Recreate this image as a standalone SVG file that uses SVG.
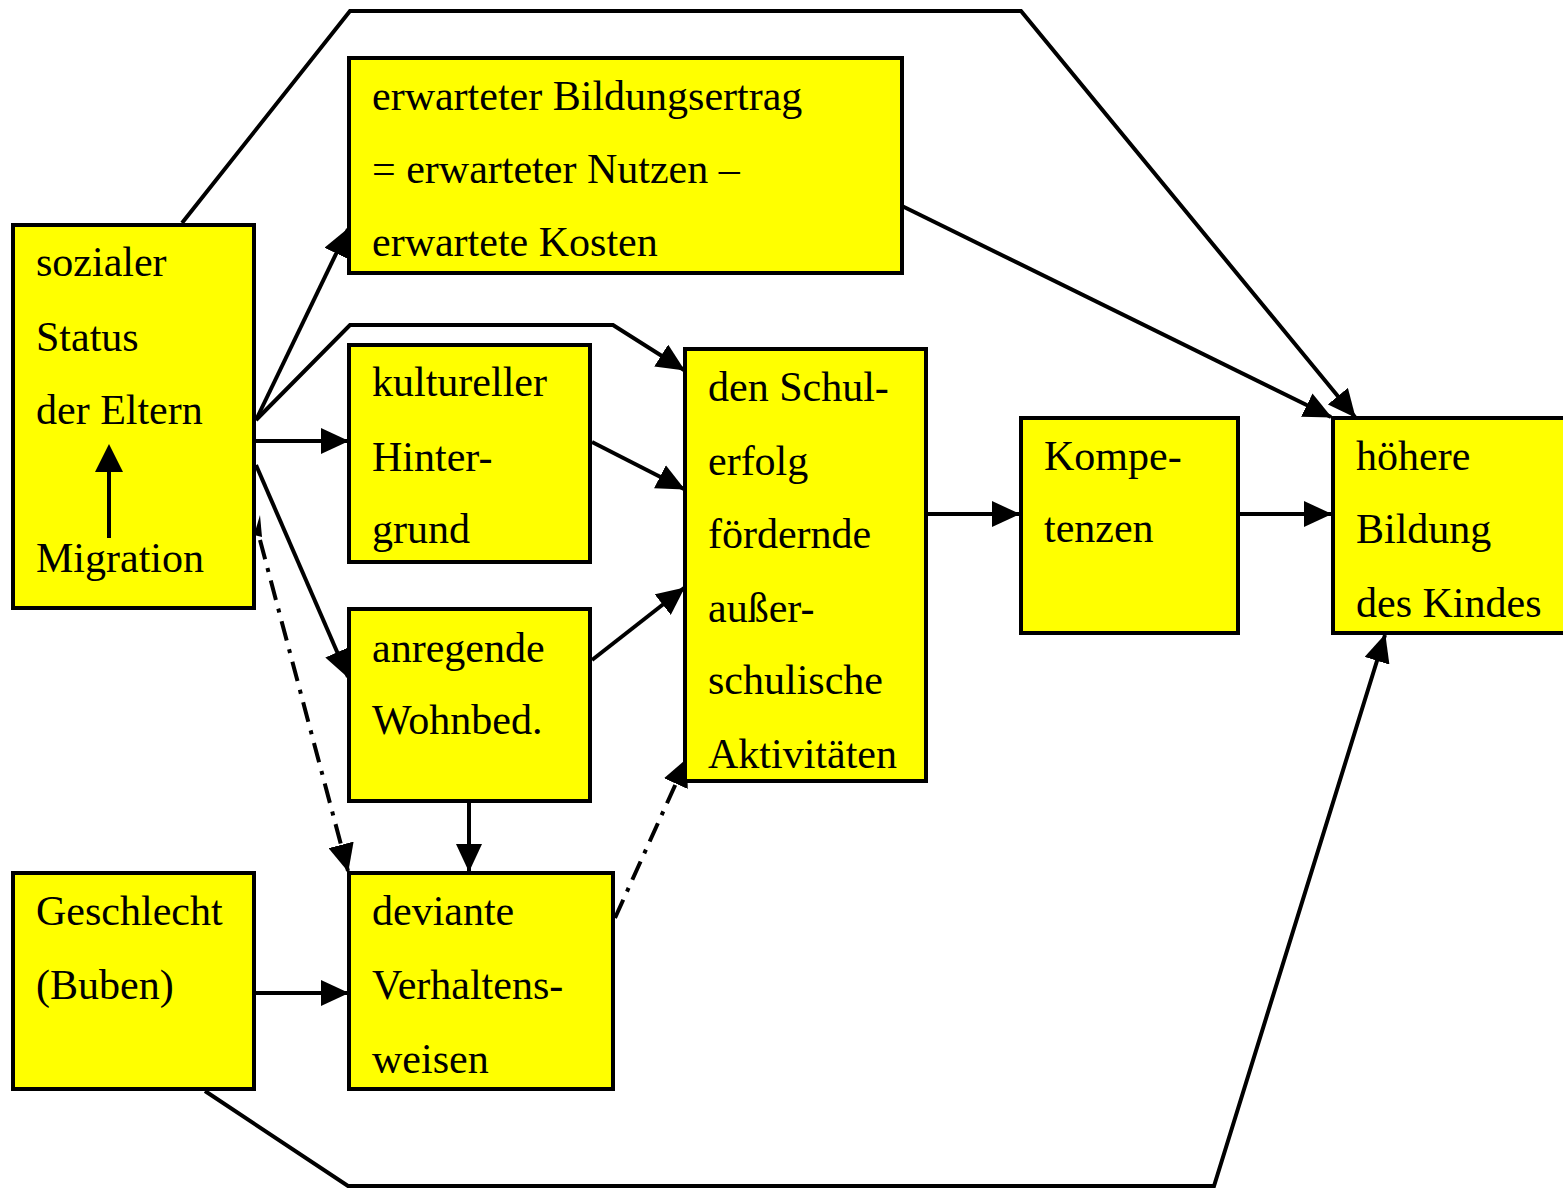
<svg xmlns="http://www.w3.org/2000/svg" width="1563" height="1188" viewBox="0 0 1563 1188">
<defs>
<marker id="ah" markerUnits="userSpaceOnUse" markerWidth="28" markerHeight="26" refX="27" refY="13" orient="auto-start-reverse" viewBox="0 0 28 26">
<path d="M0,0 L28,13 L0,26 z" fill="#000"/>
</marker>
<style>
.box{fill:#ffff00;stroke:#000;stroke-width:4}
.t{font-family:"Liberation Serif","Times New Roman",serif;font-size:42px;fill:#000}
.c{fill:none;stroke:#000;stroke-width:4}
.a{marker-end:url(#ah)}
.d{stroke-dasharray:20 9 4 9}
</style>
</defs>
<rect width="1563" height="1188" fill="#fff"/>
<g id="connectors">
<polyline class="c a" points="182,223 350,11 1021,11 1355,417"/>
<line class="c a" x1="902" y1="206" x2="1331" y2="417"/>
<line class="c a" x1="256" y1="420" x2="348" y2="229"/>
<polyline class="c a" points="256,420 350,325 613,325 684,370"/>
<line class="c a" x1="256" y1="441" x2="348" y2="441"/>
<line class="c a" x1="256" y1="465" x2="348" y2="677"/>
<line class="c d" x1="260" y1="540" x2="348" y2="871" marker-end="url(#ah)"/>
<path d="M254,535 L260,515 L262,537 z" fill="#000"/>
<line class="c a" x1="592" y1="442" x2="684" y2="489"/>
<line class="c a" x1="592" y1="660" x2="684" y2="588"/>
<line class="c a" x1="469" y1="801" x2="469" y2="871"/>
<line class="c d" x1="615" y1="918" x2="687" y2="759" marker-end="url(#ah)"/>
<line class="c a" x1="926" y1="514" x2="1019" y2="514"/>
<line class="c a" x1="1238" y1="514" x2="1331" y2="514"/>
<line class="c a" x1="254" y1="993" x2="348" y2="993"/>
<polyline class="c a" points="205,1091 348,1186 1214,1186 1385,635"/>
</g>
<g id="sozial">
<rect class="box" x="13" y="225" width="241" height="383"/>
<text class="t" x="36" y="276">sozialer</text>
<text class="t" x="36" y="351">Status</text>
<text class="t" x="36" y="424">der Eltern</text>
<text class="t" x="36" y="572">Migration</text>
<line x1="109" y1="538" x2="109" y2="470" stroke="#000" stroke-width="4"/>
<path d="M95,472 L109,444 L123,472 z" fill="#000"/>
</g>
<g id="ertrag">
<rect class="box" x="349" y="58" width="553" height="215"/>
<text class="t" x="372" y="110">erwarteter Bildungsertrag</text>
<text class="t" x="372" y="183">= erwarteter Nutzen –</text>
<text class="t" x="372" y="256">erwartete Kosten</text>
</g>
<g id="kultur">
<rect class="box" x="349" y="345" width="241" height="217"/>
<text class="t" x="372" y="396">kultureller</text>
<text class="t" x="372" y="471">Hinter-</text>
<text class="t" x="372" y="543">grund</text>
</g>
<g id="wohn">
<rect class="box" x="349" y="609" width="241" height="192"/>
<text class="t" x="372" y="662">anregende</text>
<text class="t" x="372" y="734">Wohnbed.</text>
</g>
<g id="aktiv">
<rect class="box" x="685" y="349" width="241" height="432"/>
<text class="t" x="708" y="401">den Schul-</text>
<text class="t" x="708" y="475">erfolg</text>
<text class="t" x="708" y="548">fördernde</text>
<text class="t" x="708" y="622">außer-</text>
<text class="t" x="708" y="694">schulische</text>
<text class="t" x="708" y="768">Aktivitäten</text>
</g>
<g id="kompetenz">
<rect class="box" x="1021" y="418" width="217" height="215"/>
<text class="t" x="1044" y="470">Kompe-</text>
<text class="t" x="1044" y="542">tenzen</text>
</g>
<g id="bildung">
<rect class="box" x="1333" y="418" width="240" height="215"/>
<text class="t" x="1356" y="470">höhere</text>
<text class="t" x="1356" y="543">Bildung</text>
<text class="t" x="1356" y="617">des Kindes</text>
</g>
<g id="geschlecht">
<rect class="box" x="13" y="873" width="241" height="216"/>
<text class="t" x="36" y="925">Geschlecht</text>
<text class="t" x="36" y="999">(Buben)</text>
</g>
<g id="deviant">
<rect class="box" x="349" y="873" width="264" height="216"/>
<text class="t" x="372" y="925">deviante</text>
<text class="t" x="372" y="999">Verhaltens-</text>
<text class="t" x="372" y="1073">weisen</text>
</g>
</svg>
